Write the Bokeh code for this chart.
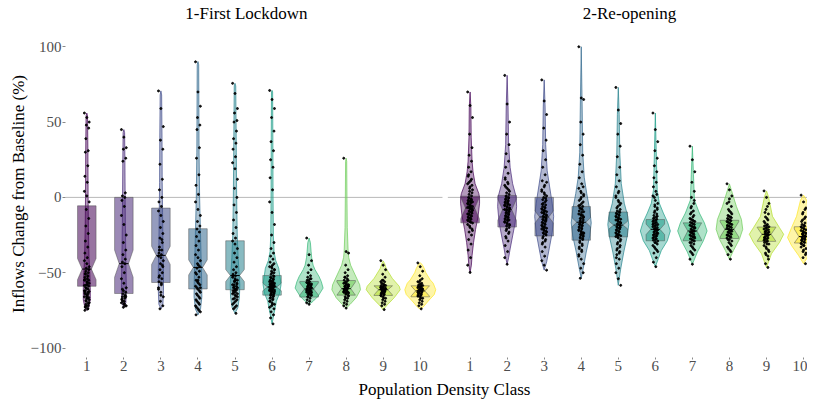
import numpy as np
from bokeh.plotting import figure
from bokeh.models import Range1d, FixedTicker, CustomJSTickFormatter, LinearAxis
from bokeh.embed import file_html
from bokeh.resources import INLINE

# ---------------- data ----------------
density_classes = [1, 2, 3, 4, 5, 6, 7, 8, 9, 10]
panel_titles = ["1-First Lockdown", "2-Re-opening"]
x_title = "Population Density Class"
y_title = "Inflows Change from Baseline (%)"
class_colors = ["#440154", "#482878", "#3E4A89", "#31688E", "#26828E",
                "#1F9E89", "#35B779", "#6DCD59", "#B4DE2C", "#FDE725"]
y_ticks = [-100, -50, 0, 50, 100]

# box statistics, panel 1 (First Lockdown)
lock_q3 = [-5.6, 0.0, -7.1, -20.8, -28.8, -51.9, -55.8, -55.2, -58.7, -58.7]
lock_median = [-47.6, -44.0, -38.5, -46.5, -51.9, -59.5, -60.8, -60.6, -61.3, -62.1]
lock_q1 = [-59.0, -63.8, -56.5, -60.8, -61.3, -64.9, -66.2, -64.9, -65.1, -66.0]
lock_notch = [7.0, 9.0, 6.0, 5.0, 4.0, 2.5, 4.0, 4.5, 3.5, 3.5]

# box statistics, panel 2 (Re-opening)
reop_q3 = [0.8, 1.3, 0.0, -6.1, -9.7, -14.7, -16.9, -15.2, -19.7, -19.5]
reop_median = [-7.1, -8.2, -13.0, -16.5, -18.4, -21.2, -22.3, -21.2, -24.5, -26.0]
reop_q1 = [-16.9, -19.7, -25.6, -28.4, -26.2, -28.8, -28.8, -27.3, -29.2, -30.3]
reop_notch = [7.0, 7.0, 4.0, 3.0, 2.5, 3.5, 6.0, 5.0, 4.5, 5.0]

# violin profiles: value knots and half-width (in category units)
lock_violin_y = [
    [-75, -73, -68, -60, -50, -40, -20, 0, 30, 54, 56],
    [-73, -70, -62, -50, -35, -15, 0, 25, 43, 45],
    [-74, -71, -62, -48, -30, -10, 10, 40, 68, 70.7],
    [-78, -74, -66, -55, -45, -30, -15, 0, 30, 60, 88, 90.2],
    [-77, -73, -66, -58, -50, -40, -25, 0, 30, 60, 74, 75.7],
    [-84, -80, -77, -72, -69, -64, -58, -53, -47, -42, -36, -25, 0, 40, 70, 71],
    [-71, -69, -65.6, -60.2, -56, -52.6, -48, -45, -40, -36, -30, -27],
    [-73.6, -71, -66.6, -61.3, -58, -51.5, -45, -40, -36, -20, 0, 24, 26],
    [-74.6, -71.4, -66.6, -61.3, -59, -53.7, -47.2, -44, -42.2],
    [-74.2, -72.7, -68.8, -64.5, -61.3, -57, -54.8, -50, -47.2, -44.5, -43.5],
]
lock_violin_w = [
    [0, 0.054, 0.094, 0.094, 0.081, 0.060, 0.043, 0.035, 0.030, 0.020, 0],
    [0, 0.054, 0.067, 0.060, 0.050, 0.040, 0.035, 0.028, 0.020, 0],
    [0, 0.054, 0.070, 0.070, 0.055, 0.045, 0.035, 0.030, 0.020, 0],
    [0, 0.070, 0.105, 0.100, 0.090, 0.075, 0.060, 0.045, 0.030, 0.025, 0.020, 0],
    [0, 0.080, 0.120, 0.130, 0.110, 0.085, 0.060, 0.045, 0.035, 0.025, 0.020, 0],
    [0, 0.030, 0.054, 0.095, 0.116, 0.200, 0.243, 0.215, 0.180, 0.100, 0.054, 0.035, 0.027, 0.022, 0.015, 0],
    [0, 0.108, 0.243, 0.378, 0.330, 0.270, 0.160, 0.108, 0.070, 0.054, 0.035, 0],
    [0, 0.108, 0.270, 0.386, 0.365, 0.243, 0.121, 0.070, 0.054, 0.030, 0.022, 0.015, 0],
    [0, 0.108, 0.297, 0.459, 0.432, 0.243, 0.081, 0.040, 0],
    [0, 0.081, 0.216, 0.378, 0.418, 0.350, 0.270, 0.150, 0.108, 0.050, 0],
]
reop_violin_y = [
    [-49.8, -45, -38.5, -29.9, -21.2, -12.6, -3.9, 0, 2.6, 9.1, 17, 24, 40, 60, 70],
    [-44.4, -40, -34.2, -25.6, -16.9, -6.1, 0.4, 9.1, 19.9, 35, 60, 81],
    [-48.3, -42.8, -34.2, -23.4, -12.6, -3.9, 6.9, 17.7, 35, 60, 78],
    [-53.7, -47.2, -36.3, -25.6, -16.9, -8.2, 2.6, 13.4, 30, 60, 100],
    [-58.4, -47.2, -36.3, -25.6, -18, -12.6, -3.9, 9.1, 30, 55, 73],
    [-46, -40.7, -35.3, -28.8, -22.3, -16.9, -10.4, -3.9, 5, 25, 56],
    [-44.4, -36.3, -28.8, -22.3, -16.9, -10.4, -1.8, 15, 34],
    [-41.1, -35.3, -27.7, -21.2, -14.7, -6.1, 4.7, 9],
    [-46.5, -37.4, -29.9, -24.5, -20.1, -12.6, 0.4, 4.3],
    [-44, -38.5, -32, -26.6, -20.1, -12.6, -1.8, 1.5],
]
reop_violin_w = [
    [0, 0.035, 0.054, 0.094, 0.148, 0.216, 0.256, 0.255, 0.235, 0.135, 0.080, 0.054, 0.030, 0.022, 0],
    [0, 0.040, 0.081, 0.148, 0.216, 0.256, 0.243, 0.148, 0.081, 0.040, 0.025, 0],
    [0, 0.067, 0.135, 0.216, 0.256, 0.216, 0.148, 0.081, 0.040, 0.025, 0],
    [0, 0.054, 0.135, 0.229, 0.270, 0.229, 0.148, 0.081, 0.040, 0.025, 0],
    [0, 0.067, 0.148, 0.243, 0.283, 0.256, 0.162, 0.081, 0.040, 0.025, 0],
    [0, 0.081, 0.162, 0.324, 0.405, 0.337, 0.216, 0.108, 0.050, 0.030, 0],
    [0, 0.135, 0.297, 0.397, 0.324, 0.189, 0.054, 0.030, 0],
    [0, 0.108, 0.270, 0.359, 0.324, 0.189, 0.054, 0],
    [0, 0.135, 0.351, 0.464, 0.351, 0.162, 0.054, 0],
    [0, 0.135, 0.324, 0.432, 0.324, 0.189, 0.081, 0],
]

# individual observations (approximate readings)
lock_points = [
    [56, 53, 50, 48, 46, 39, 31, 30, 21, 14, 10, 4, 1, -3, -8, -14, -19, -24, -29, -33, -37, -40,
     -42, -44, -46, -47, -48, -49, -50, -51, -52, -53, -54, -55, -56, -57, -58, -59, -60, -61, -62,
     -63, -64, -65, -66, -67, -68, -69, -70, -71, -72, -73, -74, -75, -58, -62, -66, -70, -72, -55, -60, -64],
    [45, 40, 33, 32, 26, 24, 3, 1, 0, -2, -6, -12, -18, -25, -30, -35, -38, -41, -43, -44, -46, -50,
     -54, -57, -60, -62, -63, -64, -65, -66, -67, -68, -69, -70, -71, -72, -73, -66, -69, -72],
    [70.7, 59, 47, 38, 32, 22, 12, 5, 0, -3, -6, -9, -12, -16, -20, -24, -27, -30, -33, -35, -37,
     -38, -39, -40, -42, -44, -46, -48, -50, -52, -54, -56, -58, -60, -63, -66, -69, -72, -74, -45, -35, -28],
    [90, 70, 60.5, 53, 48, 45, 33, 26, 15, 8, 2, -3, -8, -12, -16, -19, -21, -23, -26, -29, -32, -35,
     -38, -40, -42, -44, -46, -47, -49, -51, -53, -55, -57, -59, -61, -63, -65, -67, -69, -71, -73,
     -75, -78, -45, -50, -55, -60],
    [75.7, 69, 59, 56, 51, 50, 44, 39, 36, 32, 27, 23, 19, 12, 6, 0, -5, -10, -15, -20, -24, -27,
     -29, -31, -34, -37, -40, -43, -46, -48, -50, -51, -52, -53, -54, -55, -56, -57, -58, -59, -60,
     -61, -62, -63, -64, -65, -66, -67, -68, -70, -72, -74, -77, -52, -55, -58, -61, -64],
    [71, 65, 59, 53, 44, 37, 31, 25, 20, 13, 5, -3, -10, -18, -25, -30, -34, -37, -39, -41, -43, -45,
     -46, -47, -48, -49, -50, -51, -52, -53, -54, -55, -55.5, -56, -56.5, -57, -57.5, -58, -58.5, -59,
     -59.5, -60, -60.5, -61, -61.5, -62, -62.5, -63, -63.5, -64, -64.5, -65, -66, -67, -68, -69, -70,
     -71, -72, -74, -76, -78, -80, -84, -58, -60, -62, -57, -59, -61],
    [-27, -38, -42, -45, -48, -50, -52, -53, -54, -55, -56, -56.5, -57, -57.5, -58, -58.5, -59, -59.5,
     -60, -60.5, -61, -61.5, -62, -62.5, -63, -63.5, -64, -64.5, -65, -66, -67, -68, -69, -70, -71, -60, -58, -62],
    [26, -36, -37, -45, -48, -50, -52, -53, -54, -55, -56, -57, -57.5, -58, -58.5, -59, -59.5, -60,
     -60.5, -61, -61.5, -62, -62.5, -63, -63.5, -64, -65, -66, -67, -68, -69, -70, -71, -72, -73.5, -59, -61, -63],
    [-42, -45, -48, -51, -53, -55, -56, -57, -58, -58.5, -59, -59.5, -60, -60.5, -61, -61.5, -62, -62.5,
     -63, -63.5, -64, -64.5, -65, -66, -67, -68, -69, -70, -71, -72, -74.5, -61, -62, -60],
    [-43.5, -46, -49, -52, -54, -56, -57, -58, -58.5, -59, -59.5, -60, -60.5, -61, -61.5, -62, -62.5,
     -63, -63.5, -64, -64.5, -65, -65.5, -66, -67, -68, -69, -70, -71, -72, -74, -62, -61, -63],
]
# further observations in the dense cores of each cloud
lock_points_core = [
    [-50.5, -52.5, -54.5, -56.5, -58.5, -60.5, -62.5, -64.5, -66.5, -68.5, -70.5, -72.5, -74, -63, -67],
    [-61, -65.5, -67.5, -70.5],
    [-53, -57, -61, -65],
    [-56, -58, -60, -62, -64, -66, -68, -70, -72, -74, -76],
    [-55.5, -57.5, -59.5, -61.5, -63.5, -65.5, -67.5, -69, -71, -73, -60, -62],
    [-52.5, -53.5, -54.5, -55.5, -56.5, -57.5, -58.5, -59.5, -60.5, -61.5, -62.5, -63.5, -64.5,
     -65.5, -66.5, -67.5, -69, -71, -73, -50, -48, -46, -44],
    [-57, -58, -59, -60, -61, -62, -63, -64, -65, -55, -54, -66],
    [-56.5, -58, -59, -60, -61, -62, -63, -64, -65.5, -67, -55, -53],
    [-57.5, -58.5, -59.5, -60.5, -61.5, -62.5, -63.5, -64.5, -65.5, -67, -56, -55],
    [-57.5, -58.5, -59.5, -60.5, -61.5, -62.5, -63.5, -64.5, -65.5, -67, -56, -55],
]
reop_points = [
    [70, 61, 53, 42, 33, 28, 24, 20, 17, 14, 11, 9, 7, 5, 4, 3, 2, 1, 0, -1, -2, -3, -4, -5, -6, -7,
     -8, -9, -10, -11, -12, -13, -14, -15, -16, -17, -19, -21, -23, -25, -28, -31, -35, -40, -45, -49.8, -3, -6, -9],
    [81, 62, 50, 42, 35, 29, 24, 20, 16, 13, 10, 8, 6, 4, 3, 2, 1, 0, -1, -2, -3, -4, -5, -6, -7, -8,
     -9, -10, -11, -12, -13, -14, -15, -16, -17, -18, -19, -20, -22, -24, -26, -29, -32, -36, -40, -44.4, -5, -10, -15],
    [78, 64, 55, 46, 38, 31, 25, 20, 15, 11, 8, 5, 3, 1, 0, -2, -4, -5, -6, -7, -8, -9, -10, -11, -12,
     -13, -14, -15, -16, -17, -18, -19, -20, -21, -22, -23, -24, -25, -26, -28, -30, -33, -36, -39,
     -42, -45, -48.3, -10, -15, -20],
    [100, 66, 65, 50, 42, 35, 28, 22, 17, 13, 9, 6, 3, 1, -1, -3, -5, -6, -7, -8, -9, -10, -11, -12,
     -13, -14, -15, -16, -17, -18, -19, -20, -21, -22, -23, -24, -25, -26, -27, -28, -29, -31, -33,
     -35, -38, -41, -44, -47, -50, -53.7, -12, -18, -24],
    [73, 58, 49, 42, 34, 27, 20, 15, 11, 7, 4, 1, -2, -4, -6, -8, -9, -10, -11, -12, -13, -14, -15,
     -16, -17, -18, -19, -20, -21, -22, -23, -24, -25, -26, -27, -28, -30, -32, -34, -36, -38, -41,
     -44, -47, -50, -54, -58.4, -15, -20, -25],
    [56, 45, 37, 31, 26, 21, 17, 13, 10, 7, 4, 1, -2, -4, -6, -8, -10, -11, -12, -13, -14, -15, -16,
     -17, -18, -19, -20, -21, -22, -23, -24, -25, -26, -27, -28, -29, -30, -31, -33, -35, -37, -40,
     -43, -46, -18, -21, -24],
    [34, 25, 17, 10, 4, 0, -4, -7, -9, -11, -13, -14, -15, -16, -17, -18, -19, -20, -21, -22, -23,
     -24, -25, -26, -27, -28, -29, -30, -31, -32, -34, -36, -38, -41, -44.4, -20, -23, -26],
    [9, 5, 1, -3, -6, -8, -10, -12, -13, -14, -15, -16, -17, -18, -19, -20, -21, -22, -23, -24, -25,
     -26, -27, -28, -29, -30, -32, -34, -36, -38, -41, -19, -22, -25],
    [4.3, 0, -4, -8, -11, -13, -15, -17, -18, -19, -20, -21, -22, -23, -24, -25, -26, -27, -28, -29,
     -30, -31, -32, -34, -36, -38, -41, -44, -46.5, -23, -25, -27],
    [1.5, -3, -7, -10, -13, -15, -17, -18, -19, -20, -21, -22, -23, -24, -25, -26, -27, -28, -29, -30,
     -31, -32, -33, -35, -37, -40, -44, -24, -26, -28],
]
reop_points_core = [
    [-0.5, -1.5, -2.5, -3.5, -4.5, -5.5, -6.5, -7.5, -8.5, -9.5, -10.5, -11.5, -12.5, -13.5, -14.5,
     -15.5, -16.5, -18, -20, -22, 6, 8, 10, 12, 15, -2, -4, -7, -11, -14],
    [0.5, -0.5, -1.5, -2.5, -3.5, -4.5, -5.5, -6.5, -7.5, -8.5, -9.5, -10.5, -11.5, -12.5, -13.5,
     -14.5, -15.5, -16.5, -17.5, -18.5, -21, -23, -27, 5, 7, 9, 12, -3, -8, -13],
    [-0.5, -1.5, -3, -4.5, -6.5, -7.5, -8.5, -9.5, -10.5, -11.5, -12.5, -13.5, -14.5, -15.5, -16.5,
     -17.5, -18.5, -19.5, -20.5, -21.5, -22.5, -23.5, -24.5, -27, -29, -31, 2, 4, 7, 10],
    [-2, -4, -5.5, -7.5, -9.5, -11.5, -13.5, -15.5, -16.5, -17.5, -18.5, -19.5, -20.5, -21.5, -22.5,
     -23.5, -24.5, -25.5, -26.5, -27.5, -30, -32, -34, -36, -39, 0, 2, 4, 7, -14],
    [-5, -7, -9.5, -10.5, -11.5, -12.5, -13.5, -14.5, -15.5, -16.5, -17.5, -18.5, -19.5, -20.5, -21.5,
     -22.5, -23.5, -24.5, -25.5, -26.5, -29, -31, -33, -35, -37, -40, -3, 0, 3, -17],
    [-9, -12.5, -13.5, -14.5, -15.5, -16.5, -17.5, -18.5, -19.5, -20.5, -21.5, -22.5, -23.5, -24.5,
     -25.5, -26.5, -27.5, -28.5, -30, -32, -34, -36, -5, -7, 0, 2],
    [-10, -12, -14.5, -15.5, -16.5, -17.5, -18.5, -19.5, -20.5, -21.5, -22.5, -23.5, -24.5, -25.5,
     -26.5, -27.5, -28.5, -30, -33, -35, -37, -2, -6],
    [-9, -11, -12.5, -13.5, -14.5, -15.5, -16.5, -17.5, -18.5, -19.5, -20.5, -21.5, -22.5, -23.5,
     -24.5, -25.5, -26.5, -28, -31, -33, -35, -4, -1],
    [-14, -16, -18.5, -19.5, -20.5, -21.5, -22.5, -23.5, -24.5, -25.5, -26.5, -27.5, -28.5, -29.5,
     -31, -33, -35, -37, -39, -10, -6],
    [-14, -16, -18.5, -19.5, -20.5, -21.5, -22.5, -23.5, -24.5, -25.5, -26.5, -27.5, -28.5, -29.5,
     -30.5, -32, -34, -36, -38, -11, -8],
]

# ---------------- layout constants ----------------
PANEL_SHIFT = 10.345          # x offset of the second facet
BOX_HALF = 0.25
NOTCH_IN = 0.125
JIT = 0.065
FONT = "Liberation Serif"

p = figure(width=807, height=401, output_backend="svg", toolbar_location=None,
           x_range=Range1d(0.425, 20.452), y_range=Range1d(-106.3, 110.8),
           min_border_left=65, min_border_right=0, min_border_top=26, min_border_bottom=36)
p.outline_line_color = None
p.background_fill_color = "white"
p.border_fill_color = "white"
p.xgrid.visible = False
p.ygrid.visible = False

# zero reference line, one per facet
p.segment(x0=[0.4, 0.4 + PANEL_SHIFT], x1=[10.6, 10.6 + PANEL_SHIFT + 1], y0=[0, 0], y1=[0, 0],
          line_color="#b8b8b8", line_width=1)

panels = [
    (0.0, lock_q1, lock_median, lock_q3, lock_notch, lock_violin_y, lock_violin_w,
     lock_points, lock_points_core),
    (PANEL_SHIFT, reop_q1, reop_median, reop_q3, reop_notch, reop_violin_y, reop_violin_w,
     reop_points, reop_points_core),
]

vx, vy, vc = [], [], []
bx, by, bc = [], [], []
mx0, mx1, my = [], [], []
px, py = [], []
for shift, q1s, meds, q3s, notches, vys, vws, pts, core in panels:
    for i, cls in enumerate(density_classes):
        xc = cls + shift
        yy = np.array(vys[i], dtype=float)
        ww = np.array(vws[i], dtype=float)
        vx.append(list(xc + ww) + list(xc - ww[::-1]))
        vy.append(list(yy) + list(yy[::-1]))
        vc.append(class_colors[i])
        q1, m, q3, n = q1s[i], meds[i], q3s[i], notches[i]
        nh = min(n, q3 - m)
        nl = min(n, m - q1)
        bx.append([xc - BOX_HALF, xc - BOX_HALF, xc - NOTCH_IN, xc - BOX_HALF, xc - BOX_HALF,
                   xc + BOX_HALF, xc + BOX_HALF, xc + NOTCH_IN, xc + BOX_HALF, xc + BOX_HALF])
        by.append([q3, m + nh, m, m - nl, q1, q1, m - nl, m, m + nh, q3])
        bc.append(class_colors[i])
        mx0.append(xc - NOTCH_IN)
        mx1.append(xc + NOTCH_IN)
        my.append(m)
        vals = np.array(list(pts[i]) + list(core[i]), dtype=float)
        k = np.arange(len(vals))
        offs = ((k * 5) % 11 - 5) / 5.0 * JIT
        px.extend(list(xc + offs))
        py.extend(list(vals))

p.patches(vx, vy, fill_color=vc, fill_alpha=0.4, line_color=vc, line_width=0.7)
p.patches(bx, by, fill_color=bc, fill_alpha=0.55, line_color="#4d4d4d", line_alpha=0.8, line_width=0.6)
p.segment(x0=mx0, x1=mx1, y0=my, y1=my, line_color="black", line_width=1)
p.scatter(px, py, size=2.0, color="black", alpha=0.9)

# axes
xt = [c for c in density_classes] + [c + PANEL_SHIFT for c in density_classes]
p.xaxis.ticker = FixedTicker(ticks=xt)
p.xaxis.formatter = CustomJSTickFormatter(
    code="return String(Math.round(tick > 10.5 ? tick - %s : tick));" % PANEL_SHIFT)
p.yaxis.ticker = FixedTicker(ticks=y_ticks)
for ax in (p.xaxis, p.yaxis):
    ax.axis_line_color = None
    ax.major_tick_line_color = "#8a8a8a"
    ax.major_tick_in = 0
    ax.minor_tick_line_color = None
    ax.major_label_text_font = FONT
    ax.major_label_text_font_size = "15px"
    ax.major_label_text_color = "#4d4d4d"
    ax.axis_label_text_font = FONT
    ax.axis_label_text_font_size = "17px"
    ax.axis_label_text_font_style = "normal"
    ax.axis_label_text_color = "black"
p.xaxis.major_tick_out = 2
p.yaxis.major_tick_out = 3
p.xaxis.major_label_standoff = 1
p.yaxis.major_label_standoff = 1
p.yaxis.axis_label = y_title
p.yaxis.axis_label_standoff = 0


def text_axis(ticks, labels, size, standoff):
    ax = LinearAxis(ticker=FixedTicker(ticks=ticks),
                    formatter=CustomJSTickFormatter(args=dict(t=labels),
                                                    code="return tick < 10.5 ? t[0] : t[t.length - 1];"))
    ax.axis_line_color = None
    ax.major_tick_line_color = None
    ax.minor_tick_line_color = None
    ax.major_label_text_font = FONT
    ax.major_label_text_font_size = size
    ax.major_label_text_color = "black"
    ax.major_label_standoff = standoff
    return ax


# facet strip titles (top) and the shared x title (bottom), as label-only axes
p.add_layout(text_axis([5.31, 15.65], panel_titles, "17px", 2), "above")
p.add_layout(text_axis([10.655], [x_title], "17px", 0), "below")

open("out.html", "w").write(file_html(p, INLINE))
